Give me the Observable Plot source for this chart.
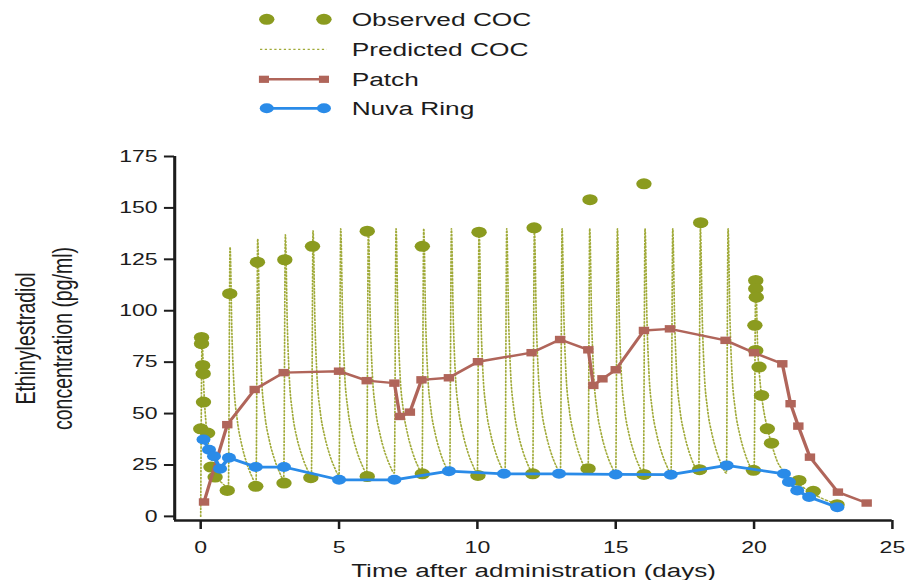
<!DOCTYPE html>
<html><head><meta charset="utf-8">
<script src="https://cdn.jsdelivr.net/npm/d3@7"></script>
<script src="https://cdn.jsdelivr.net/npm/@observablehq/plot@0.6"></script>
<style>
html,body{margin:0;padding:0;background:#fff;overflow:hidden}
#wrap{width:647px;transform:scaleX(1.39876);transform-origin:0 0;font-family:"Liberation Sans",Arial,sans-serif}
#wrap svg{display:block}
</style></head><body><div id="wrap"></div>
<script>
// ---- data (day, ethinylestradiol pg/ml) ----
const observedCOC = [
  [0.0,42.6],[0.03,87.0],[0.03,84.0],[0.07,73.4],[0.09,69.4],[0.1,55.6],[0.25,40.5],[0.37,24.0],[0.52,19.1],
  [0.96,12.6],[1.05,108.3],[1.99,14.6],[2.05,123.6],[3.01,16.2],[3.04,124.8],[3.98,18.8],[4.04,131.3],
  [6.02,19.4],[6.02,138.7],[8.01,20.7],[8.01,131.3],[10.02,19.9],[10.06,138.2],[12.0,20.7],[12.05,140.3],
  [14.0,23.2],[14.07,154.0],[16.02,20.4],[16.02,161.7],[18.03,22.7],[18.07,142.8],
  [19.98,22.4],[20.03,92.9],[20.06,114.7],[20.06,110.7],[20.08,106.6],[20.06,80.7],[20.18,72.6],[20.27,58.8],
  [20.48,42.6],[20.63,35.6],[21.62,17.5],[22.14,12.2],[23.0,5.7]
];
const predictedCOC = [
  [0,0],[0.05,85],[0.12,60],[0.2,44],[0.32,32],[0.48,24],[0.66,18],[0.83,15.5],[1,13.5],
  [1.06,131],[1.13,88],[1.2,64],[1.32,47],[1.48,35],[1.66,26],[1.83,20],[2,16],
  [2.06,135],[2.13,91],[2.2,67],[2.32,49],[2.48,37],[2.66,28],[2.83,22],[3,18],
  [3.06,137],[3.13,93],[3.2,68],[3.32,50],[3.48,38],[3.66,29.5],[3.83,23.5],[4,19.5],
  [4.06,139],[4.13,94],[4.2,69],[4.32,51],[4.48,39],[4.66,30],[4.83,24],[5,20],
  [5.06,140],[5.13,95],[5.2,70],[5.32,52],[5.48,40],[5.66,31],[5.83,25],[6,21],
  [6.06,140],[6.13,95],[6.2,70],[6.32,52],[6.48,40],[6.66,31],[6.83,25],[7,21],
  [7.06,140],[7.13,95],[7.2,70],[7.32,52],[7.48,40],[7.66,31],[7.83,25],[8,21],
  [8.06,140],[8.13,95],[8.2,70],[8.32,52],[8.48,40],[8.66,31],[8.83,25],[9,21],
  [9.06,140],[9.13,95],[9.2,70],[9.32,52],[9.48,40],[9.66,31],[9.83,25],[10,21],
  [10.06,140],[10.13,95],[10.2,70],[10.32,52],[10.48,40],[10.66,31],[10.83,25],[11,21],
  [11.06,140],[11.13,95],[11.2,70],[11.32,52],[11.48,40],[11.66,31],[11.83,25],[12,21],
  [12.06,140],[12.13,95],[12.2,70],[12.32,52],[12.48,40],[12.66,31],[12.83,25],[13,21],
  [13.06,140],[13.13,95],[13.2,70],[13.32,52],[13.48,40],[13.66,31],[13.83,25],[14,21],
  [14.06,140],[14.13,95],[14.2,70],[14.32,52],[14.48,40],[14.66,31],[14.83,25],[15,21],
  [15.06,140],[15.13,95],[15.2,70],[15.32,52],[15.48,40],[15.66,31],[15.83,25],[16,21],
  [16.06,140],[16.13,95],[16.2,70],[16.32,52],[16.48,40],[16.66,31],[16.83,25],[17,21],
  [17.06,140],[17.13,95],[17.2,70],[17.32,52],[17.48,40],[17.66,31],[17.83,25],[18,21],
  [18.06,140],[18.13,95],[18.2,70],[18.32,52],[18.48,40],[18.66,31],[18.83,25],[19,21],
  [19.06,140],[19.13,95],[19.2,70],[19.32,52],[19.48,40],[19.66,31],[19.83,25],[20,21],
  [20.06,115],[20.13,82],[20.2,68],[20.32,54],[20.48,43],[20.66,34],[20.83,27],[21,23],
  [21.5,17],[22,12],[22.5,8.5],[23,6]
];
const patch = [
  [0.12,7.0],[0.96,44.6],[1.95,61.7],[3.0,69.9],[5.0,70.6],[6.0,66.0],[7.0,64.8],[7.2,48.6],[7.56,50.7],
  [7.98,66.4],[8.97,67.4],[10.02,75.2],[11.96,79.6],[12.99,86.0],[14.01,81.0],[14.19,63.7],[14.52,66.9],
  [15.0,71.3],[16.02,90.4],[16.96,91.2],[18.97,85.6],[20.0,79.6],[21.02,74.2],[21.32,54.8],[21.6,43.9],
  [22.02,28.8],[23.03,11.8],[24.07,6.5]
];
const nuvaRing = [
  [0.1,37.4],[0.3,32.4],[0.48,29.2],[0.7,23.2],[1.02,28.5],[1.99,24.0],[3.01,24.0],[5.0,17.8],[7.0,17.8],
  [8.97,22.0],[10.96,20.7],[12.95,20.7],[15.0,20.4],[16.99,20.3],[19.01,24.8],[21.08,20.7],[21.26,16.7],
  [21.56,12.6],[21.99,9.4],[23.01,4.5]
];
const xTicks = [0, 5, 10, 15, 20, 25];
const yTicks = [0, 25, 50, 75, 100, 125, 150, 175];
const seriesNames = ["Observed COC", "Predicted COC", "Patch", "Nuva Ring"];
const xTitle = "Time after administration (days)";
const yTitle = "Ethinylestradiol\nconcentration (pg/ml)";

// ---- styling ----
const olive = "#8b9b1f", oliveDot = "#a0aa38", brown = "#b0655a", blue = "#2a8be8", ink = "#1c1c1c";
const W = 647, H = 455, xDomain = [-0.94, 25], yDomain = [-2, 175];
const font = "Liberation Sans, Arial, sans-serif";

const toObj = a => a.map(([day, conc]) => ({day, conc}));

// ---- legend ----
const wrap = d3.select("#wrap");
const leg = wrap.append("svg").attr("width", W).attr("height", 125).style("font-family", font);
const my = [19.3, 49.3, 79.3, 108.3], ty = [26.5, 56.5, 86, 115];
leg.selectAll("circle.o").data([190.7, 231.6]).join("circle").attr("cx", d => d).attr("cy", my[0]).attr("r", 5.5).attr("fill", olive);
leg.append("line").attr("x1", 185.9).attr("x2", 233.6).attr("y1", my[1]).attr("y2", my[1]).attr("stroke", oliveDot).attr("stroke-width", 1.2).attr("stroke-dasharray", "1.6,1.8");
leg.append("line").attr("x1", 188.7).attr("x2", 231.6).attr("y1", my[2]).attr("y2", my[2]).attr("stroke", brown).attr("stroke-width", 2.4);
leg.selectAll("rect.p").data([188.7, 231.6]).join("rect").attr("x", d => d - 3.6).attr("y", my[2] - 3.6).attr("width", 7.2).attr("height", 7.2).attr("fill", brown);
leg.append("line").attr("x1", 190.7).attr("x2", 231.6).attr("y1", my[3]).attr("y2", my[3]).attr("stroke", blue).attr("stroke-width", 2.8);
leg.selectAll("circle.r").data([190.7, 231.6]).join("circle").attr("cx", d => d).attr("cy", my[3]).attr("r", 5).attr("fill", blue);
leg.selectAll("text").data(seriesNames).join("text").attr("x", 251.4).attr("y", (d, i) => ty[i])
  .attr("font-size", 18.8).attr("fill", ink).text(d => d);

// ---- chart ----
const chart = Plot.plot({
  width: W, height: H,
  marginLeft: 124.4, marginRight: 9.5, marginTop: 31, marginBottom: 60,
  x: {domain: xDomain},
  y: {domain: yDomain},
  style: {fontFamily: font, fontSize: "16.5px", color: ink, background: "white", overflow: "visible"},
  marks: [
    Plot.axisX(xTicks, {tickSize: 9, tickPadding: 12, strokeWidth: 1.8, fontSize: 16.5, label: null}),
    Plot.axisY(yTicks, {tickSize: 7.2, tickPadding: 5, strokeWidth: 2, fontSize: 16.5, label: null}),
    Plot.ruleX([xDomain[0]], {stroke: ink, strokeWidth: 2.2}),
    Plot.ruleY([yDomain[0]], {stroke: ink, strokeWidth: 2.5}),
    Plot.line(toObj(predictedCOC), {x: "day", y: "conc", stroke: oliveDot, strokeWidth: 1.2, strokeDasharray: "1.6,1.8", curve: "monotone-x"}),
    Plot.dot(toObj(observedCOC), {x: "day", y: "conc", r: 5.5, fill: olive}),
    Plot.line(toObj(patch), {x: "day", y: "conc", stroke: brown, strokeWidth: 2.4}),
    Plot.dot(toObj(patch), {x: "day", y: "conc", symbol: "square", r: 4.2, fill: brown}),
    Plot.line(toObj(nuvaRing), {x: "day", y: "conc", stroke: blue, strokeWidth: 2.8}),
    Plot.dot(toObj(nuvaRing), {x: "day", y: "conc", r: 5, fill: blue}),
    Plot.text([xTitle], {text: d => d, frameAnchor: "bottom", lineAnchor: "bottom", dy: 56, fontSize: 18.6, fill: ink}),
    Plot.text([yTitle], {text: d => d, frameAnchor: "left", textAnchor: "middle", rotate: -90, dx: -94.9, lineHeight: 1.34, fontSize: 19.5, fill: ink})
  ]
});
wrap.node().appendChild(chart);
</script>
</body></html>
